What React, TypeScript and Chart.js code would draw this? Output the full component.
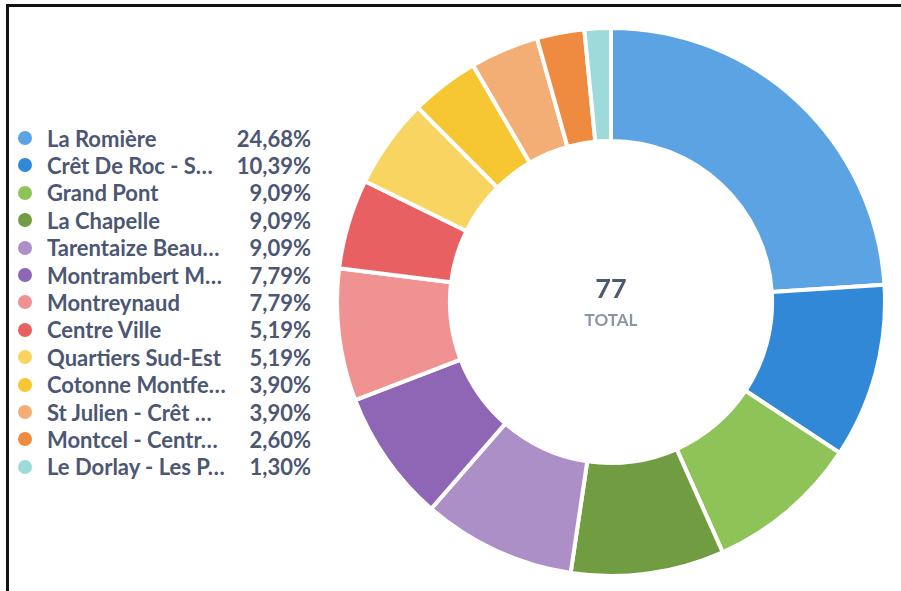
import React, { useEffect, useRef } from "react";
import { Chart, registerables } from "chart.js";

Chart.register(...registerables);

const labels = [
  "La Romière",
  "Crêt De Roc - S…",
  "Grand Pont",
  "La Chapelle",
  "Tarentaize Beau…",
  "Montrambert M…",
  "Montreynaud",
  "Centre Ville",
  "Quartiers Sud-Est",
  "Cotonne Montfe…",
  "St Julien - Crêt …",
  "Montcel - Centr…",
  "Le Dorlay - Les P…",
];

const values = [19, 8, 7, 7, 7, 6, 6, 4, 4, 3, 3, 2, 1];

const colors = [
  "#5BA3E3",
  "#3088D6",
  "#8DC357",
  "#729C42",
  "#AD8FC8",
  "#8F65B5",
  "#F09291",
  "#E96062",
  "#F8D560",
  "#F7C733",
  "#F3AE76",
  "#EF8B40",
  "#9DDAD9",
];

const centerLabel = "TOTAL";

const total = values.reduce((a, b) => a + b, 0);
const fmtPct = (v: number) => ((v / total) * 100).toFixed(2).replace(".", ",") + "%";

const FONT = "Lato, 'Noto Sans', sans-serif";
const TEXT = "#4C5773";
const PAD = (1.1 * Math.PI) / 180;

// distribute angles like a pie with pad angle (each slice gets an equal extra pad)
const padAngles = {
  id: "padAngles",
  beforeDatasetsDraw(chart: any) {
    const meta = chart.getDatasetMeta(0);
    const arcs = meta.data;
    const n = arcs.length;
    const k = (2 * Math.PI - n * PAD) / total;
    let a = -Math.PI / 2;
    arcs.forEach((arc: any, i: number) => {
      const span = values[i] * k + PAD;
      arc.startAngle = a;
      arc.endAngle = a + span;
      arc.circumference = span;
      a += span;
    });
  },
};

const centerText = {
  id: "centerText",
  afterDraw(chart: any) {
    const meta = chart.getDatasetMeta(0);
    const arc = meta.data[0];
    if (!arc) return;
    const { x, y } = arc;
    const ctx = chart.ctx;
    ctx.save();
    ctx.textAlign = "center";
    ctx.textBaseline = "alphabetic";
    ctx.fillStyle = TEXT;
    ctx.font = `bold 27px ${FONT}`;
    ctx.fillText(String(total), x, y - 4);
    ctx.fillStyle = "#8C95A6";
    ctx.font = `bold 17px ${FONT}`;
    ctx.fillText(centerLabel, x, y + 24);
    ctx.restore();
  },
};

export default function App() {
  const ref = useRef<HTMLCanvasElement | null>(null);

  useEffect(() => {
    document.body.style.margin = "0";
    if (!ref.current) return;
    const chart = new Chart(ref.current, {
      type: "doughnut",
      data: {
        labels,
        datasets: [
          {
            data: values,
            backgroundColor: colors,
            borderColor: "#ffffff",
            borderWidth: 4,
            hoverBorderWidth: 4,
          },
        ],
      },
      options: {
        animation: false,
        responsive: false,
        maintainAspectRatio: false,
        cutout: "58.8%",
        layout: { padding: 0 },
        plugins: {
          legend: { display: false },
          tooltip: { enabled: false },
        },
      },
      plugins: [padAngles, centerText],
    });
    return () => chart.destroy();
  }, []);

  return (
    <div
      style={{
        position: "absolute",
        left: 0,
        top: 0,
        width: 901,
        height: 591,
        background: "#fff",
        overflow: "hidden",
        fontFamily: FONT,
      }}
    >
      <div
        style={{
          position: "absolute",
          left: 6,
          top: 4,
          width: 901,
          height: 600,
          borderTop: "3px solid #111",
          borderLeft: "3px solid #111",
        }}
      />
      {labels.map((l, i) => (
        <div
          key={i}
          style={{
            position: "absolute",
            left: 18,
            top: 138 + i * 27.4 - 13,
            width: 293,
            height: 26,
            display: "flex",
            alignItems: "center",
            color: TEXT,
            fontSize: 22,
            fontWeight: 700,
            whiteSpace: "nowrap",
          }}
        >
          <span
            style={{
              display: "inline-block",
              width: 14,
              height: 14,
              borderRadius: "50%",
              background: colors[i],
              marginRight: 15,
              flex: "none",
            }}
          />
          <span style={{ flex: 1 }}>{l}</span>
          <span>{fmtPct(values[i])}</span>
        </div>
      ))}
      <canvas
        ref={ref}
        width={552}
        height={552}
        style={{ position: "absolute", left: 335, top: 26, width: 552, height: 552 }}
      />
    </div>
  );
}
